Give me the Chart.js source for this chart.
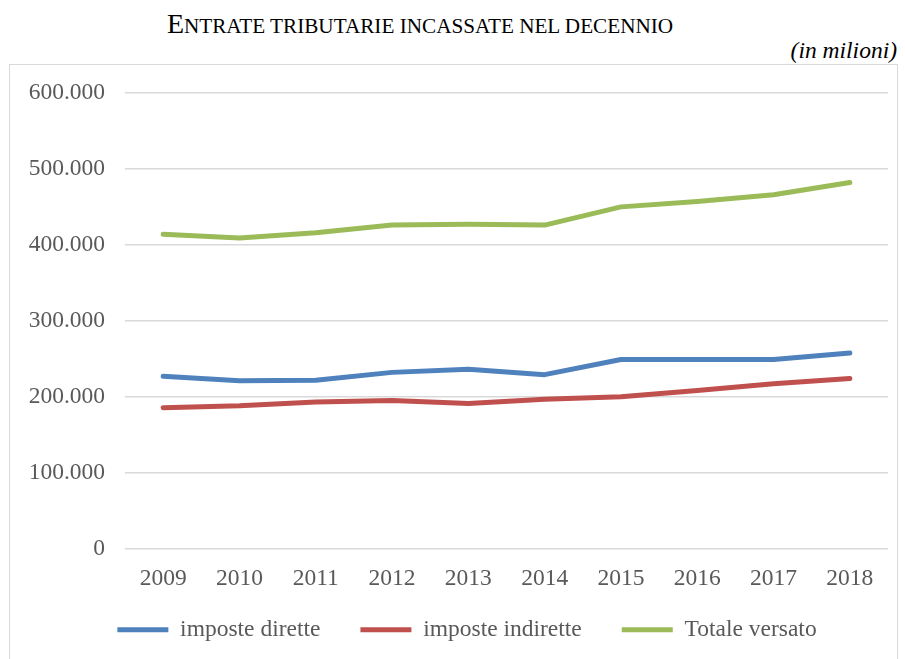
<!DOCTYPE html>
<html>
<head>
<meta charset="utf-8">
<script src="https://cdn.jsdelivr.net/npm/chart.js@4.4.0/dist/chart.umd.min.js"></script>
<style>
  html,body{margin:0;padding:0;background:#fff;overflow:hidden;}
  #wrap{position:relative;width:905px;height:659px;overflow:hidden;}
  #title{position:absolute;left:0;top:9px;width:840px;text-align:center;font-family:"Liberation Serif",serif;font-size:21.2px;line-height:30px;color:#000;white-space:nowrap;}
  #title .big{font-size:28px;}
  #sub{position:absolute;right:8px;top:35px;font-family:"Liberation Serif",serif;font-style:italic;font-size:23.5px;color:#000;line-height:30px;}
  #frame{position:absolute;left:9px;top:64px;width:889px;height:620px;border:1px solid #d9d9d9;box-sizing:border-box;}
  #box{position:absolute;left:0;top:65px;width:905px;height:601px;}
</style>
</head>
<body>
<div id="wrap">
  <div id="title"><span class="big">E</span>NTRATE TRIBUTARIE INCASSATE NEL DECENNIO</div>
  <div id="sub">(in milioni)</div>
  <div id="frame"></div>
  <div id="box"><canvas id="chart"></canvas></div>
</div>
<script>
// anni e valori (milioni)
const anni=["2009","2010","2011","2012","2013","2014","2015","2016","2017","2018"];
const impDirette=[227000,221000,221500,232000,236000,229000,249000,249000,249000,257500];
const impIndirette=[185500,188000,193000,195000,191000,196500,200000,208000,217000,224000];
const totaleVersato=[414000,409000,416000,426000,427000,426000,450000,457000,466000,482000];

const fontFam='"Liberation Serif", "Times New Roman", serif';

function migliaia(v){
    return String(v).replace(/\B(?=(\d{3})+(?!\d))/g,".");
}

function serie(label,data,color){
    return {
        label:label,
        data:data,
        borderColor:color,
        backgroundColor:color,
        borderWidth:5,
        borderCapStyle:'round',
        borderJoinStyle:'round',
        pointRadius:0,
        pointHoverRadius:0,
        tension:0,
        fill:false
    };
}

// sposta la legenda dove sta nell'originale
const legendaPos={
    id:'legendaPos',
    afterLayout(chart){
        const lg=chart.legend;
        const h=lg.height;
        lg.left=46;
        lg.right=888;
        lg.width=lg.right-lg.left;
        lg.top=513;
        lg.bottom=lg.top+h;
    }
};

const ctx=document.getElementById("chart").getContext("2d");
const myChart=new Chart(ctx,{
    type:'line',
    data:{
        labels:anni,
        datasets:[
            serie("imposte dirette",impDirette,"#4f81bd"),
            serie("imposte indirette",impIndirette,"#c0504d"),
            serie("Totale versato",totaleVersato,"#9bbb59")
        ]
    },
    plugins:[legendaPos],
    options:{
        responsive:true,
        maintainAspectRatio:false,
        animation:false,
        layout:{padding:{left:8,right:17,top:28,bottom:0}},
        plugins:{
            tooltip:{enabled:false},
            legend:{
                position:'bottom',
                labels:{
                    usePointStyle:true,
                    pointStyle:'line',
                    pointStyleWidth:51,
                    padding:40,
                    color:'#595959',
                    font:{family:fontFam,size:23.5}
                }
            }
        },
        scales:{
            x:{
                offset:true,
                grid:{display:false},
                border:{display:false},
                ticks:{color:'#595959',font:{family:fontFam,size:23.5},padding:8,maxRotation:0,autoSkip:false},
                afterFit:function(scale){scale.height=44;}
            },
            y:{
                min:0,
                max:600000,
                grid:{color:'#d9d9d9',lineWidth:1.5,drawTicks:false},
                border:{display:false},
                ticks:{
                    stepSize:100000,
                    color:'#595959',
                    padding:20,
                    font:{family:fontFam,size:23.5},
                    callback:function(v){return migliaia(v);}
                },
                afterFit:function(scale){
                    scale.width=117;
                    scale.paddingTop=0;
                    scale.paddingBottom=0;
                }
            }
        }
    }
});
</script>
</body>
</html>
